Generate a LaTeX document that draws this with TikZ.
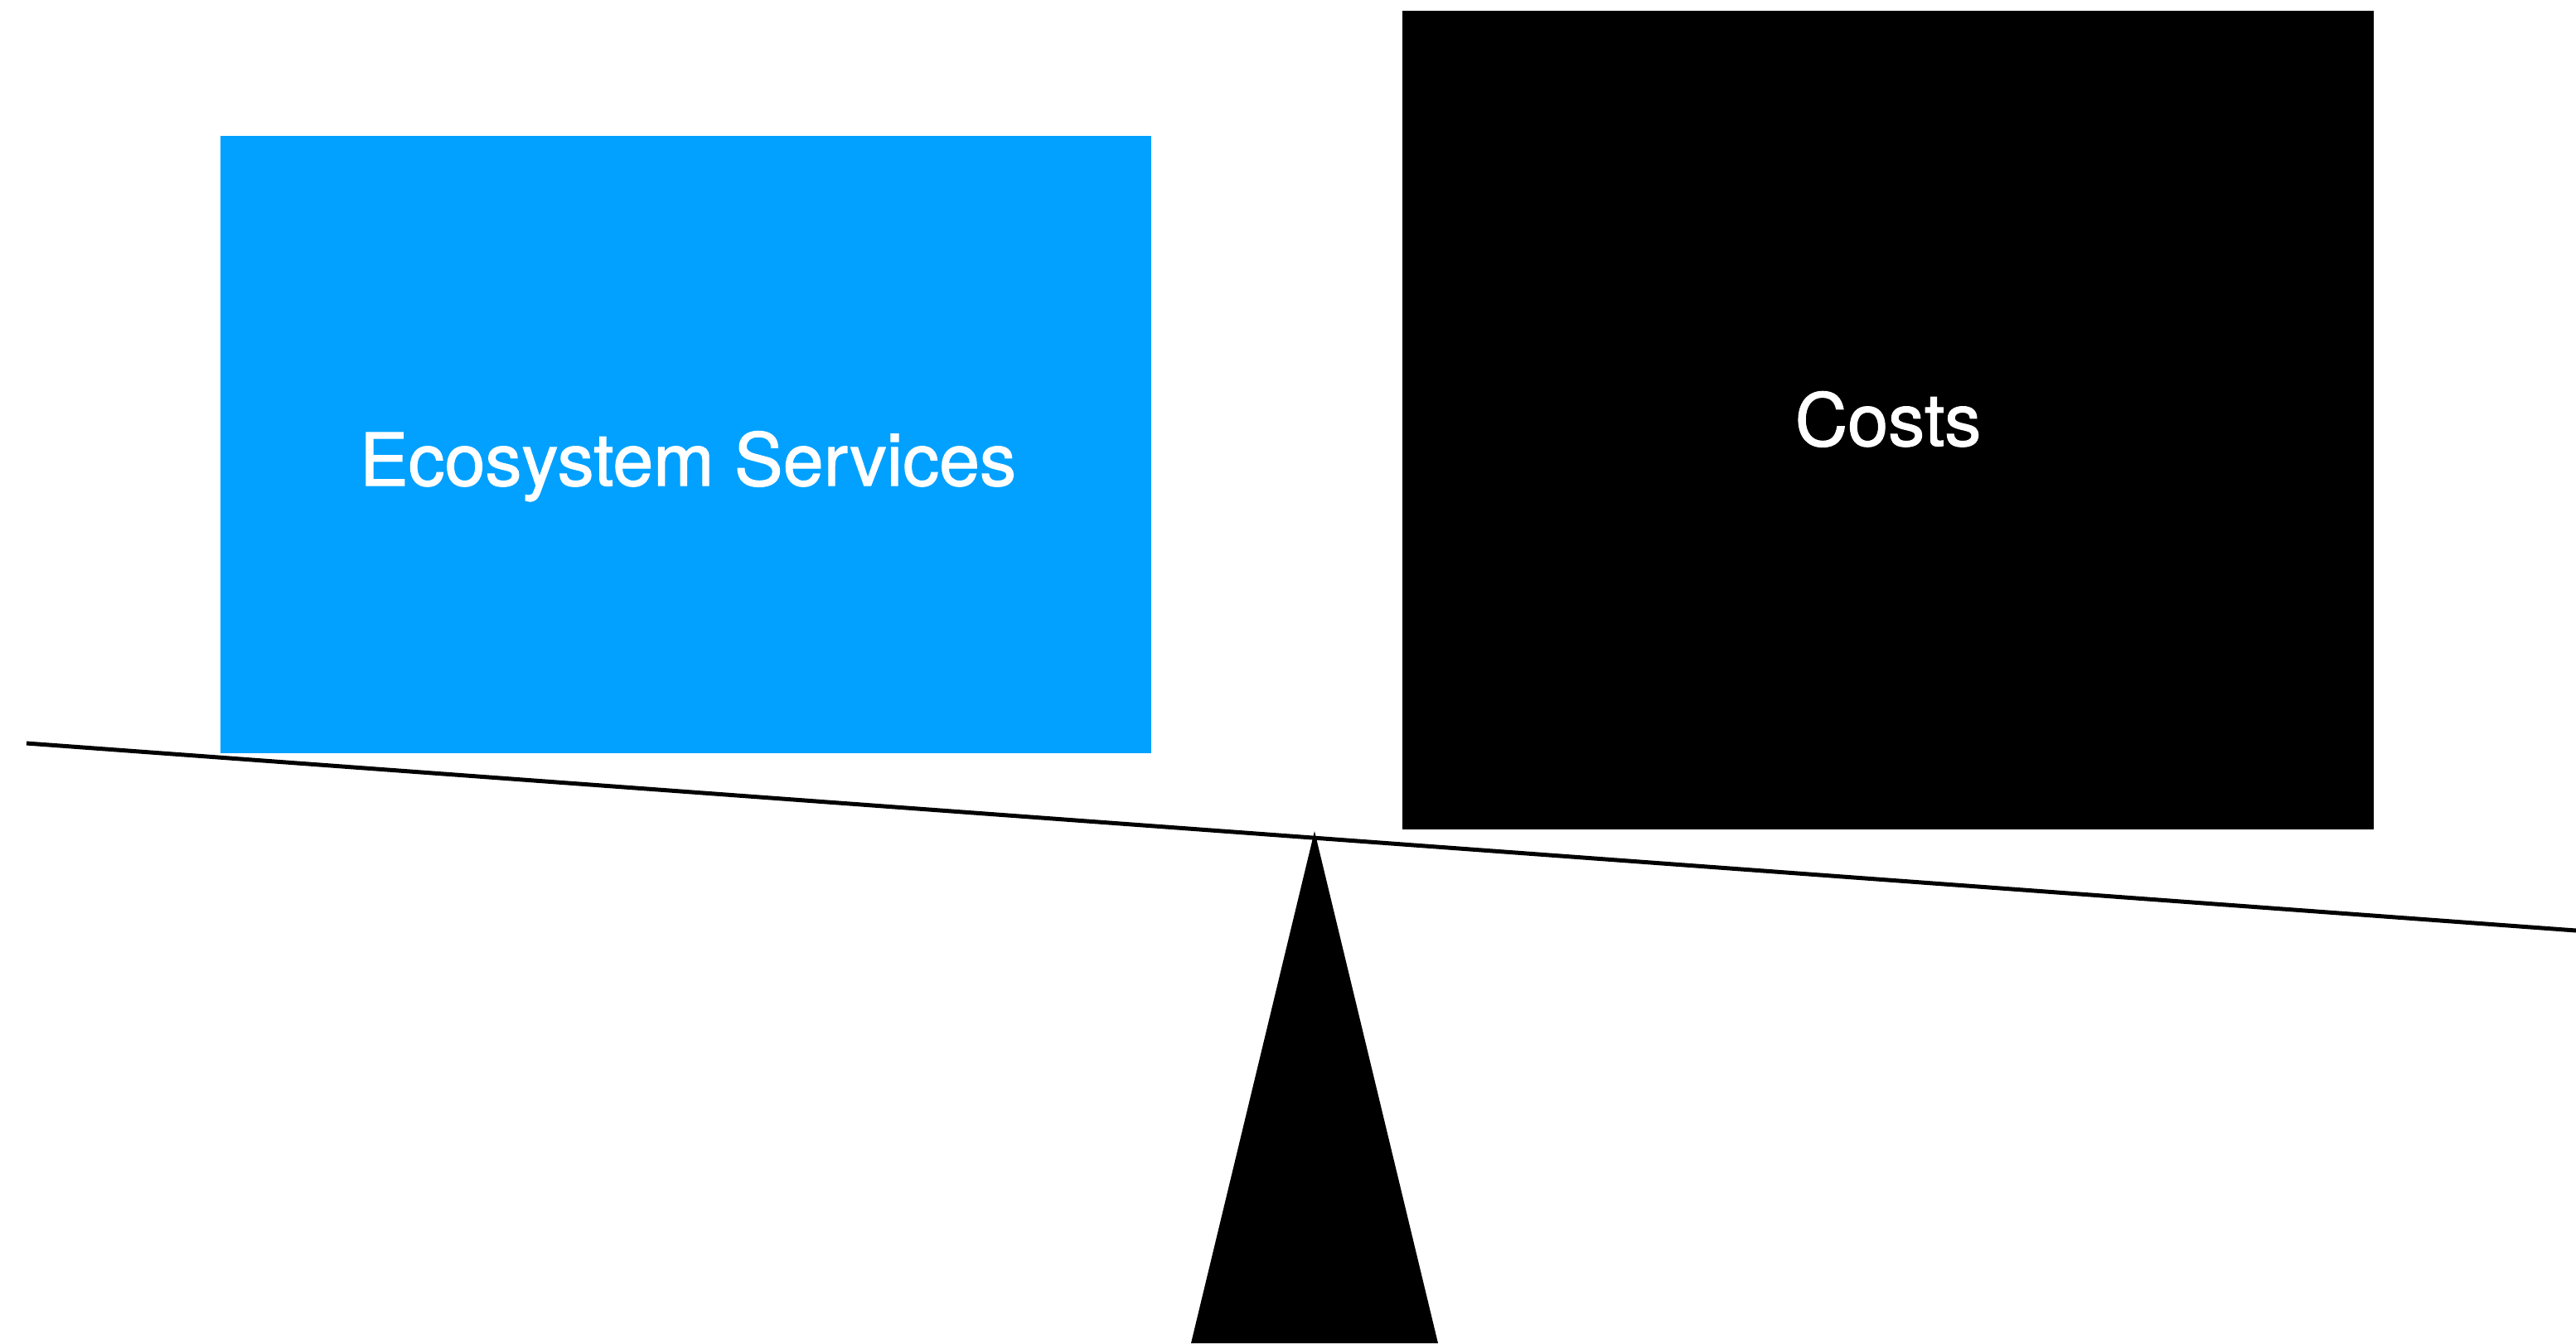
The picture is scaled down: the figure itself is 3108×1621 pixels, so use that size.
\documentclass[tikz,border=0pt]{standalone}
\usepackage{fontspec}
\setmainfont{TeX Gyre Heros}
\newfontfamily\lblfont{TeX Gyre Heros}[FakeBold=1.3]
\definecolor{esblue}{RGB}{2,161,255}
\begin{document}
\begin{tikzpicture}[x=0.25pt,y=-0.25pt,
  box/.style={draw=none,inner sep=0pt,outer sep=0pt,anchor=north west},
  lbl/.style={text=white,font=\lblfont\fontsize{22pt}{26pt}\selectfont,anchor=base,inner sep=0pt}]
\useasboundingbox (0,0) rectangle (3108,1621);
% boxes
\node[box,fill=esblue,minimum width=1123*0.25pt,minimum height=745*0.25pt] (es) at (266,164) {};
\node[box,fill=black,minimum width=1172*0.25pt,minimum height=988*0.25pt] (costs) at (1692,13) {};
\node[lbl] (eslbl) at (830,586) {Ecosystem Services};
\node[lbl] (costslbl) at (2278,538) {Costs};
% fulcrum
\coordinate (apex) at (1586,1003);
\coordinate (bl) at (1437,1621);
\coordinate (br) at (1735,1621);
\fill[black] (apex) -- (br) -- (bl) -- cycle;
% beam
\coordinate (beamL) at (32,897);
\coordinate (beamR) at (3108,1123);
\draw[line width=1.25pt] (beamL) -- (beamR);
\end{tikzpicture}
\end{document}
